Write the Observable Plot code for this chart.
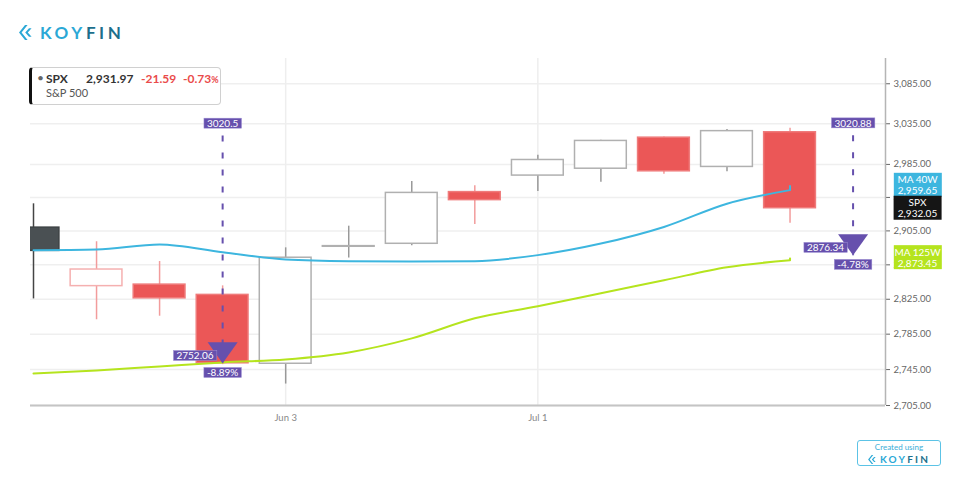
<!DOCTYPE html>
<html>
<head>
<meta charset="utf-8">
<script src="https://cdn.jsdelivr.net/npm/d3@7"></script>
<script src="https://cdn.jsdelivr.net/npm/@observablehq/plot@0.6"></script>
<style>
html,body{margin:0;padding:0;background:#fff;width:960px;height:480px;overflow:hidden;font-family:Lato,"Noto Sans",sans-serif;}
#chart{position:absolute;left:0;top:0;}
#logo{position:absolute;left:19px;top:25px;height:15px;display:flex;align-items:center;}
#logo .word{margin-left:8px;font-weight:700;font-size:17px;letter-spacing:3.6px;line-height:15px;}
.koy{color:#2ba8d6;} .fin{color:#1c6f8c;}
#legend{position:absolute;left:29px;top:67px;width:192px;height:38px;box-sizing:border-box;border:1px solid #d0d0d0;border-left:3px solid #111;border-radius:4px;background:#fff;}
#legend span{position:absolute;white-space:nowrap;line-height:14px;}
#legend .dot{left:5px;top:3px;color:#666;font-size:12px;}
#legend .sym{left:14px;top:4px;font-weight:700;font-size:12px;color:#333;}
#legend .px{left:54px;top:4px;font-weight:700;font-size:12px;color:#333;}
#legend .chg{left:109px;top:4px;font-weight:700;font-size:12px;color:#ea4b4b;}
#legend .pct{left:151px;top:4px;font-weight:700;font-size:12px;color:#ea4b4b;}
#legend .pct small{font-size:9px;}
#legend .name{left:14px;top:18px;font-size:11px;color:#555;}
#credit{position:absolute;left:857px;top:440px;width:84px;height:26px;box-sizing:border-box;border:1px solid #5cc3e6;border-radius:3px;background:#fff;text-align:center;}
#credit .c1{font-size:8px;color:#3aaed8;line-height:9px;margin-top:2px;}
#credit .c2{display:flex;justify-content:center;align-items:center;margin-top:2px;height:10px;}
#credit .c2 .word{font-weight:700;font-size:10px;letter-spacing:2.2px;margin-left:4px;line-height:10px;}
</style>
</head>
<body>
<div id="chart"></div>
<div id="logo">
  <svg width="13" height="15" viewBox="0 0 13 15"><path d="M6 0 L0 7.5 L6 15 L8.6 15 L2.6 7.5 L8.6 0Z" fill="#2ba8d6"/><path d="M10 3.2 L6.2 7.5 L10 11.8 L12.6 11.8 L8.8 7.5 L12.6 3.2Z" fill="#2ba8d6"/></svg>
  <span class="word"><span class="koy">KOY</span><span class="fin">FIN</span></span>
</div>
<div id="legend">
  <span class="dot">•</span><span class="sym">SPX</span><span class="px">2,931.97</span><span class="chg">-21.59</span><span class="pct">-0.73<small>%</small></span>
  <span class="name">S&amp;P 500</span>
</div>
<div id="credit">
  <div class="c1">Created using</div>
  <div class="c2"><svg width="8" height="9" viewBox="0 0 13 15"><path d="M6 0 L0 7.5 L6 15 L8.6 15 L2.6 7.5 L8.6 0Z" fill="#2ba8d6"/><path d="M10 3.2 L6.2 7.5 L10 11.8 L12.6 11.8 L8.8 7.5 L12.6 3.2Z" fill="#2ba8d6"/></svg><span class="word"><span class="koy">KOY</span><span class="fin">FIN</span></span></div>
</div>
<script>
// ---- data (weekly SPX candles) ----
const dates  = ["2019-05-06","2019-05-13","2019-05-20","2019-05-27","2019-06-03","2019-06-10","2019-06-17","2019-06-24","2019-07-01","2019-07-08","2019-07-15","2019-07-22","2019-07-29"];
const opens  = [2908.89,2840.19,2841.94,2830.03,2751.53,2886.24,2889.75,2951.42,2971.41,2979.77,3017.80,2981.93,3024.47];
const highs  = [2937.32,2892.15,2868.88,2840.51,2884.97,2910.61,2964.15,2959.22,2996.06,3014.50,3018.50,3027.98,3029.47];
const lows   = [2825.39,2801.43,2805.49,2750.52,2728.81,2873.00,2887.30,2912.54,2952.22,2963.44,2973.00,2976.14,2914.11];
const closes = [2881.40,2859.53,2826.06,2752.06,2873.34,2886.98,2950.46,2941.76,2990.41,3013.77,2976.61,3025.86,2932.05];
const ma40   = [2882.2,2883.0,2889.0,2879.8,2871.3,2869.3,2868.9,2869.3,2876.4,2890.0,2909.7,2937.5,2953.8];
const ma125  = [2740.7,2744.0,2748.5,2753.0,2756.4,2764.3,2780.2,2803.1,2816.9,2832.0,2847.0,2862.2,2870.4];
// current (live) values shown on the right axis
const sideNames  = ["MA 40W","SPX","MA 125W"];
const sideValues = [2959.65,2932.05,2873.45];
// drawdown annotations
const annDates = ["2019-05-27","2019-08-05"];
const annPeaks = [3020.5,3020.88];
const annLows  = [2752.06,2876.34];
const annPcts  = ["-8.89%","-4.78%"];
// axes
const yTicks = [2705,2745,2785,2825,2865,2905,2945,2985,3035,3085];
const xTicks = ["2019-06-03","2019-07-01"];
const xDomain = ["2019-05-05T16:00Z","2019-08-08T14:24Z"];
const yDomain = [2705,3117];

// ---- styles ----
const RED = "#eb5757", DARK = "#4a5053", PURPLE = "#6650ad";
const BLUE = "#3db6df", LIME = "#b5e41e";
const sideColors = [BLUE, "#151515", LIME];

const data = dates.map((d,i)=>({
  date:new Date(d), open:opens[i], high:highs[i], low:lows[i], close:closes[i],
  prev: i ? closes[i-1] : null, ma40:ma40[i], ma125:ma125[i]
}));
const tone = d => d.prev == null ? "dark" : (d.close < d.prev ? "red" : "gray");
const wickColor = d => ({dark:"#444", red:"#f29c9c", gray:"#999"})[tone(d)];
const bodyStroke = d => ({dark:"#3d4244", red: d.close < d.open ? "#ef7b7b" : "#f5b0b0", gray:"#b0b0b0"})[tone(d)];
const bodyFill = d => d.close < d.open ? ({dark:DARK, red:RED, gray:"#999"})[tone(d)] : "#fff";

const last = data[data.length-1];
const jumps = [
  {date:last.date, from:last.ma40, to:sideValues[0], c:BLUE},
  {date:last.date, from:last.ma125, to:sideValues[2], c:LIME}
];
const ann = annDates.map((d,i)=>({date:new Date(d), peak:annPeaks[i], low:annLows[i], pct:annPcts[i]}));
const side = sideNames.map((n,i)=>({name:n, value:sideValues[i]}));

const downTri = {draw(ctx){ ctx.moveTo(-15,-21); ctx.lineTo(15,-21); ctx.lineTo(0,0); ctx.closePath(); }};
const HALF = 69 * 3600 * 1000; // half candle width in ms

const plot = Plot.plot({
  width:960, height:480,
  marginLeft:30, marginRight:75, marginTop:58, marginBottom:75,
  style:{fontFamily:"Lato, sans-serif", fontSize:"9.5px", color:"#666", background:"transparent"},
  x:{type:"utc", domain:xDomain.map(d=>new Date(d)), ticks:xTicks.map(d=>new Date(d)), tickFormat:d3.utcFormat("%b %-d"), tickSize:0, tickPadding:9, label:null},
  y:{type:"log", domain:yDomain, ticks:yTicks, tickFormat:d3.format(",.2f"), axis:"right", tickSize:4, tickPadding:4, label:null},
  marks:[
    Plot.ruleY(yTicks, {stroke:"#efefef", strokeWidth:1.5}),
    Plot.ruleX(xTicks.map(d=>new Date(d)), {stroke:"#eeeeee", strokeWidth:1.5}),
    Plot.ruleX(data, {x:"date", y1:"low", y2:"high", stroke:wickColor, strokeWidth:1.5, clip:true}),
    Plot.rect(data, {x1:d=>new Date(+d.date-HALF), x2:d=>new Date(+d.date+HALF),
      y1:d=>Math.min(d.open,d.close), y2:d=>Math.max(d.open,d.close),
      fill:bodyFill, stroke:bodyStroke, strokeWidth:1.5, clip:true}),
    Plot.line(data, {x:"date", y:"ma125", curve:"monotone-x", stroke:LIME, strokeWidth:2, clip:true}),
    Plot.line(data, {x:"date", y:"ma40", curve:"monotone-x", stroke:BLUE, strokeWidth:2, clip:true}),
    Plot.link(jumps, {x1:"date", x2:"date", y1:"from", y2:"to", stroke:"c", strokeWidth:2}),
    Plot.ruleY([yDomain[0]], {stroke:"#c4c4c4", strokeWidth:2}),
    Plot.ruleX([new Date(xDomain[1])], {stroke:"#b5b5b5", strokeWidth:1.5}),
    // annotations
    Plot.link(ann, {x1:"date", x2:"date", y1:"peak", y2:"low", stroke:PURPLE, strokeWidth:2, strokeDasharray:"6,11"}),
    Plot.dot(ann, {x:"date", y:"low", symbol:downTri, r:5, fill:PURPLE, stroke:null}),
    Plot.text(ann, {x:"date", y:"peak", text:d=>String(d.peak), dy:-11.5, fill:"#fff", fontSize:10, ariaDescription:"ann-box"}),
    Plot.text(ann, {x:"date", y:"low", text:d=>String(d.low), textAnchor:"end", dx:-9, dy:-7, fill:"#fff", fontSize:10, ariaDescription:"ann-box"}),
    Plot.text(ann, {x:"date", y:"low", text:"pct", dy:10, fill:"#fff", fontSize:10, ariaDescription:"ann-box"}),
    // right-hand value labels
    Plot.text(side, {frameAnchor:"right", y:"value", dx:32, textAnchor:"middle", text:d=>d.name+"\n"+d3.format(",.2f")(d.value), fill:"#fff", fontSize:10, lineHeight:1.1, ariaDescription:"side-box"})
  ]
});
document.getElementById("chart").append(plot);

// background boxes behind annotation / side label texts
const NS = "http://www.w3.org/2000/svg";
const groupsByDesc = desc => Array.from(plot.querySelectorAll("g")).filter(g => g.getAttribute("aria-description") === desc);
groupsByDesc("ann-box").forEach(g => g.querySelectorAll("text").forEach(t=>{
  const b = t.getBBox();
  const r = document.createElementNS(NS,"rect");
  r.setAttribute("x", b.x-3); r.setAttribute("y", b.y+1);
  r.setAttribute("width", b.width+6); r.setAttribute("height", b.height-2);
  r.setAttribute("fill", PURPLE); r.setAttribute("stroke","#9d8fd3"); r.setAttribute("stroke-width","0.5");
  if (t.getAttribute("transform")) r.setAttribute("transform", t.getAttribute("transform"));
  t.parentNode.insertBefore(r, t);
}));
groupsByDesc("side-box").forEach(g => {
  g.querySelectorAll("text").forEach((t,i)=>{
    const b = t.getBBox();
    const cx = b.x + b.width/2, cy = b.y + b.height/2;
    const r = document.createElementNS(NS,"rect");
    r.setAttribute("x", cx-24); r.setAttribute("y", cy-12);
    r.setAttribute("width", 48); r.setAttribute("height", 24);
    r.setAttribute("fill", sideColors[i]);
    if (t.getAttribute("transform")) r.setAttribute("transform", t.getAttribute("transform"));
    t.parentNode.insertBefore(r, t);
  });
  plot.appendChild(g); // keep value boxes above the axis tick labels
});
plot.querySelectorAll('g[aria-label^="x-axis"]').forEach(g=>g.setAttribute("fill","#888"));
</script>
</body>
</html>
